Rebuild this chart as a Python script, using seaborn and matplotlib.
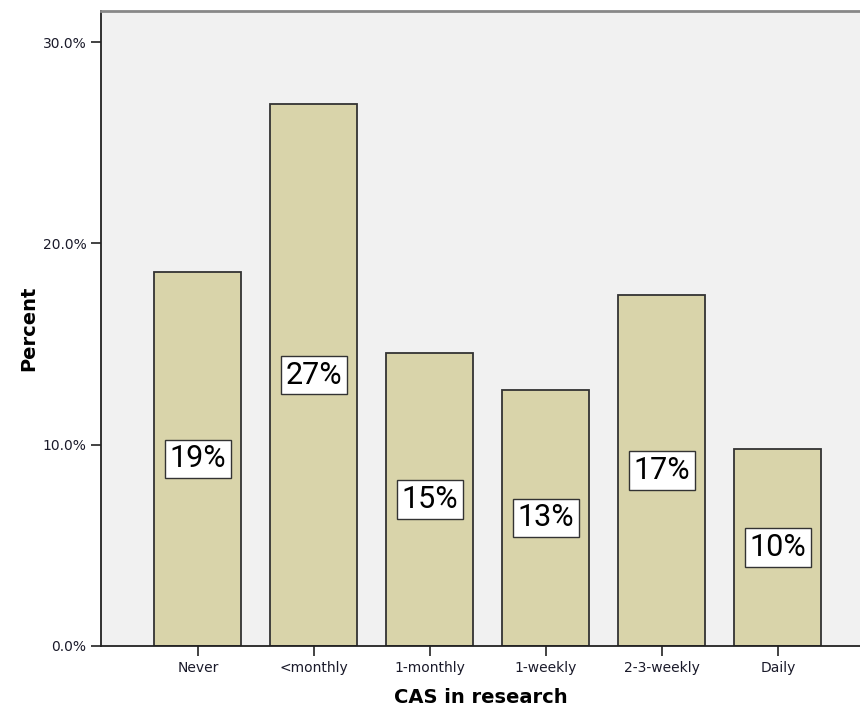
import pandas as pd
import seaborn as sns
import matplotlib.pyplot as plt
from matplotlib.ticker import FuncFormatter

# Dados
categorias = ["Never", "<monthly", "1-monthly", "1-weekly", "2-3-weekly", "Daily"]
percentagens = [18.58, 26.92, 14.56, 12.72, 17.44, 9.79]
rotulos = ["19%", "27%", "15%", "13%", "17%", "10%"]

df = pd.DataFrame({"CAS in research": categorias, "Percent": percentagens})

sns.set_style("white")
plt.rcParams['font.family'] = ['DejaVu Sans']

fig = plt.figure(figsize=(8.6, 7.12), dpi=100)
ax = fig.add_axes([0.1174, 0.0927, 0.8826, 0.892])
ax.set_facecolor("#f1f1f1")

sns.barplot(x="CAS in research", y="Percent", data=df, color="#d9d4aa",
            saturation=1, width=0.75, edgecolor="#333333", linewidth=1.3, ax=ax)

# Rótulos no meio das barras
for i, (v, txt) in enumerate(zip(percentagens, rotulos)):
    ax.text(i, v / 2, txt, ha="center", va="center", fontsize=22, color="black",
            family=['Roboto', 'DejaVu Sans'],
            bbox=dict(boxstyle="square,pad=0.16", facecolor="white", edgecolor="#333333", linewidth=1))

ax.set_ylim(0, 31.55)
ax.set_xlim(-0.836, 5.707)
ax.set_yticks([0, 10, 20, 30])
ax.yaxis.set_major_formatter(FuncFormatter(lambda y, _: f"{y:.1f}%"))

ax.tick_params(axis="both", direction="out", length=7, width=1.2, color="#222222",
               labelsize=10, labelcolor="#1a1a2a", left=True, bottom=True)
ax.set_xlabel("CAS in research", fontsize=14, fontweight="bold", labelpad=10, color="black")
ax.set_ylabel("Percent", fontsize=14, fontweight="bold", labelpad=3, color="black")

for s in ["left", "bottom"]:
    ax.spines[s].set_color("#222222")
    ax.spines[s].set_linewidth(1.3)
ax.spines["top"].set_color("#888888")
ax.spines["top"].set_linewidth(2)
ax.spines["right"].set_visible(False)

plt.savefig("out.png", dpi=100)
